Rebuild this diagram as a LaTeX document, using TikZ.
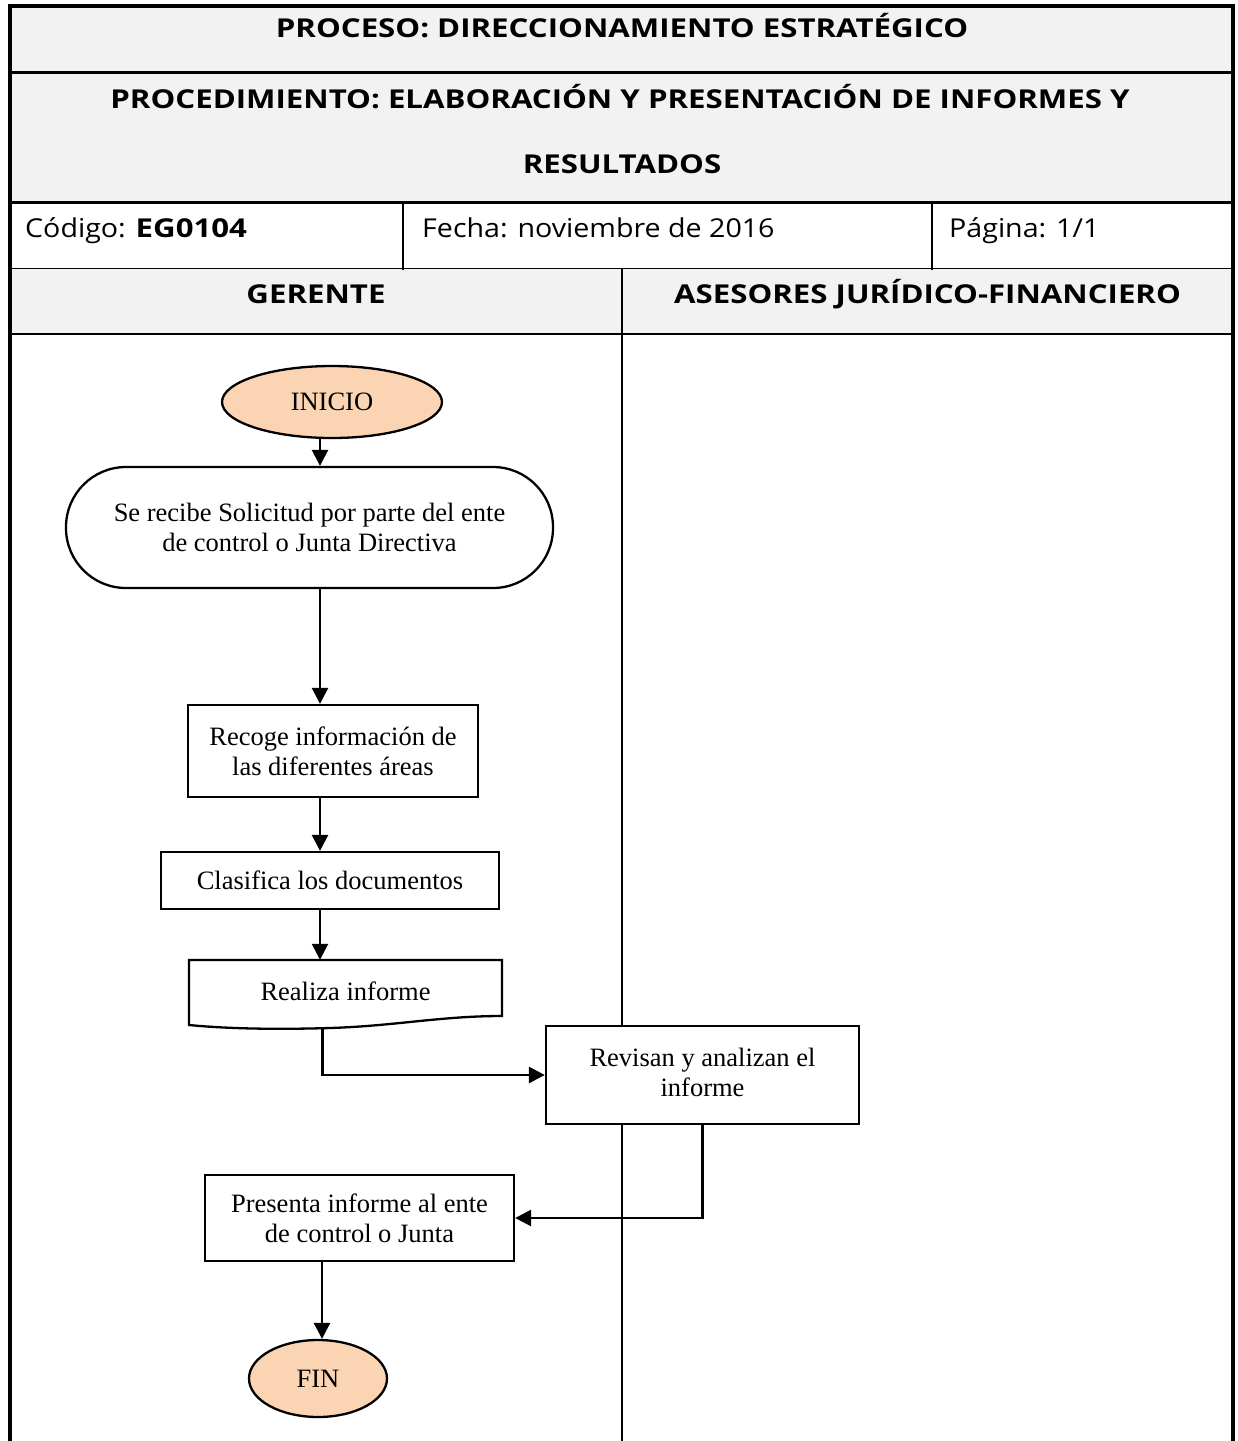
\documentclass[tikz,border=0pt]{standalone}
\usepackage{fontspec}
\setmainfont{Liberation Serif}
\newfontfamily\hdrfont{Open Sans}[FakeStretch=1.1]
\newfontfamily\hdrboldfont{Open Sans Bold}[FakeStretch=1.2]
\usetikzlibrary{arrows.meta,shapes.geometric,calc}
\definecolor{peach}{HTML}{FBD4B4}
\definecolor{hdrgrey}{HTML}{F2F2F2}

\begin{document}
\begin{tikzpicture}[x=1pt,y=-1pt,
  hdrtext/.style={font=\hdrboldfont\fontsize{26}{30}\selectfont, inner sep=0pt, anchor=base},
  celltext/.style={font=\hdrfont\fontsize{26}{30}\selectfont, inner sep=0pt, anchor=base west},
  flowtext/.style={font=\fontsize{26.5}{30}\selectfont, align=center, text=black},
  terminal/.style={ellipse, draw, line width=2.3pt, fill=peach, flowtext, inner sep=0pt},
  process/.style={rectangle, draw, line width=2.3pt, fill=white, flowtext, inner sep=0pt},
  flow/.style={line width=2.6pt, -{Triangle[length=16pt,width=16pt]}},
  thickrule/.style={line width=3.5pt},
  midrule/.style={line width=2.6pt},
  thinrule/.style={line width=1.6pt}
]
\useasboundingbox (0,0) rectangle (1238,1441);

% header backgrounds
\fill[hdrgrey] (10,6) rectangle (1233,202.5);
\fill[hdrgrey] (10,268.5) rectangle (1233,334);

% table rules
\draw[midrule] (10,72.5) -- (1233,72.5);
\draw[midrule] (10,202.5) -- (1233,202.5);
\draw[thinrule] (10,268.5) -- (1233,268.5);
\draw[midrule] (10,334) -- (1233,334);
\draw[thinrule] (403,202.5) -- (403,270);
\draw[thinrule] (932,202.5) -- (932,270);
\draw[line width=1.8pt] (622,268.5) -- (622,1441);
\draw[thickrule] (10,1441) -- (10,6) -- (1233,6) -- (1233,1441);

% header texts
\node[hdrtext] (proceso) at (622,37) {PROCESO: DIRECCIONAMIENTO ESTRATÉGICO};
\node[hdrtext] (proc1) at (620,108) {PROCEDIMIENTO: ELABORACIÓN Y PRESENTACIÓN DE INFORMES Y};
\node[hdrtext] (proc2) at (622,173) {RESULTADOS};
\node[celltext] (codigo) at (25,237) {Código: {\hdrboldfont EG0104}};
\node[celltext] (fecha) at (422,237) {Fecha: noviembre de 2016};
\node[celltext] (pagina) at (949,237) {Página: 1/1};
\node[hdrtext] (gerente) at (316,303) {GERENTE};
\node[hdrtext] (asesores) at (927.5,303) {ASESORES JURÍDICO-FINANCIERO};

% flow nodes
\node[terminal, minimum width=220pt, minimum height=72pt] (inicio) at (332,402) {INICIO};
\node[process, rounded corners=60pt, minimum width=487pt, minimum height=121pt] (solicitud) at (309.5,527.5)
  {Se recibe Solicitud por parte del ente\\de control o Junta Directiva};
\node[process, minimum width=290pt, minimum height=92pt] (recoge) at (333,751)
  {Recoge información de\\las diferentes áreas};
\node[process, minimum width=338pt, minimum height=57pt] (clasifica) at (330,880.5)
  {Clasifica los documentos};
\draw[line width=2.3pt, fill=white] (189,960) -- (502,960) -- (502,1016)
  .. controls (440,1016) and (395,1026) .. (330,1028)
  .. controls (280,1029.5) and (230,1029) .. (189,1025) -- cycle;
\node[flowtext, inner sep=0pt, minimum width=313pt, minimum height=68pt] (realiza) at (345.5,994)
  {\raisebox{5pt}{Realiza informe}};
\node[process, minimum width=313pt, minimum height=98pt] (revisan) at (702.5,1075)
  {\raisebox{5pt}{\begin{tabular}{@{}c@{}}Revisan y analizan el\\informe\end{tabular}}};
\node[process, minimum width=309pt, minimum height=86pt] (presenta) at (359.5,1218)
  {Presenta informe al ente\\de control o Junta};
\node[terminal, minimum width=138pt, minimum height=77pt] (fin) at (318,1378.5) {FIN};

% connectors
\coordinate (spine) at (320,0);
\draw[flow] (inicio.south -| spine) -- (solicitud.north -| spine);
\draw[flow] (solicitud.south -| spine) -- (recoge.north -| spine);
\draw[flow] (recoge.south -| spine) -- (clasifica.north -| spine);
\draw[flow] (clasifica.south -| spine) -- (realiza.north -| spine);
\draw[flow] ([xshift=-23pt]realiza.south) |- (revisan.west);
\draw[flow] (revisan.south) |- (presenta.east);
\draw[flow] ([xshift=2pt]presenta.south -| spine) -- ([xshift=2pt]fin.north -| spine);
\end{tikzpicture}
\end{document}
